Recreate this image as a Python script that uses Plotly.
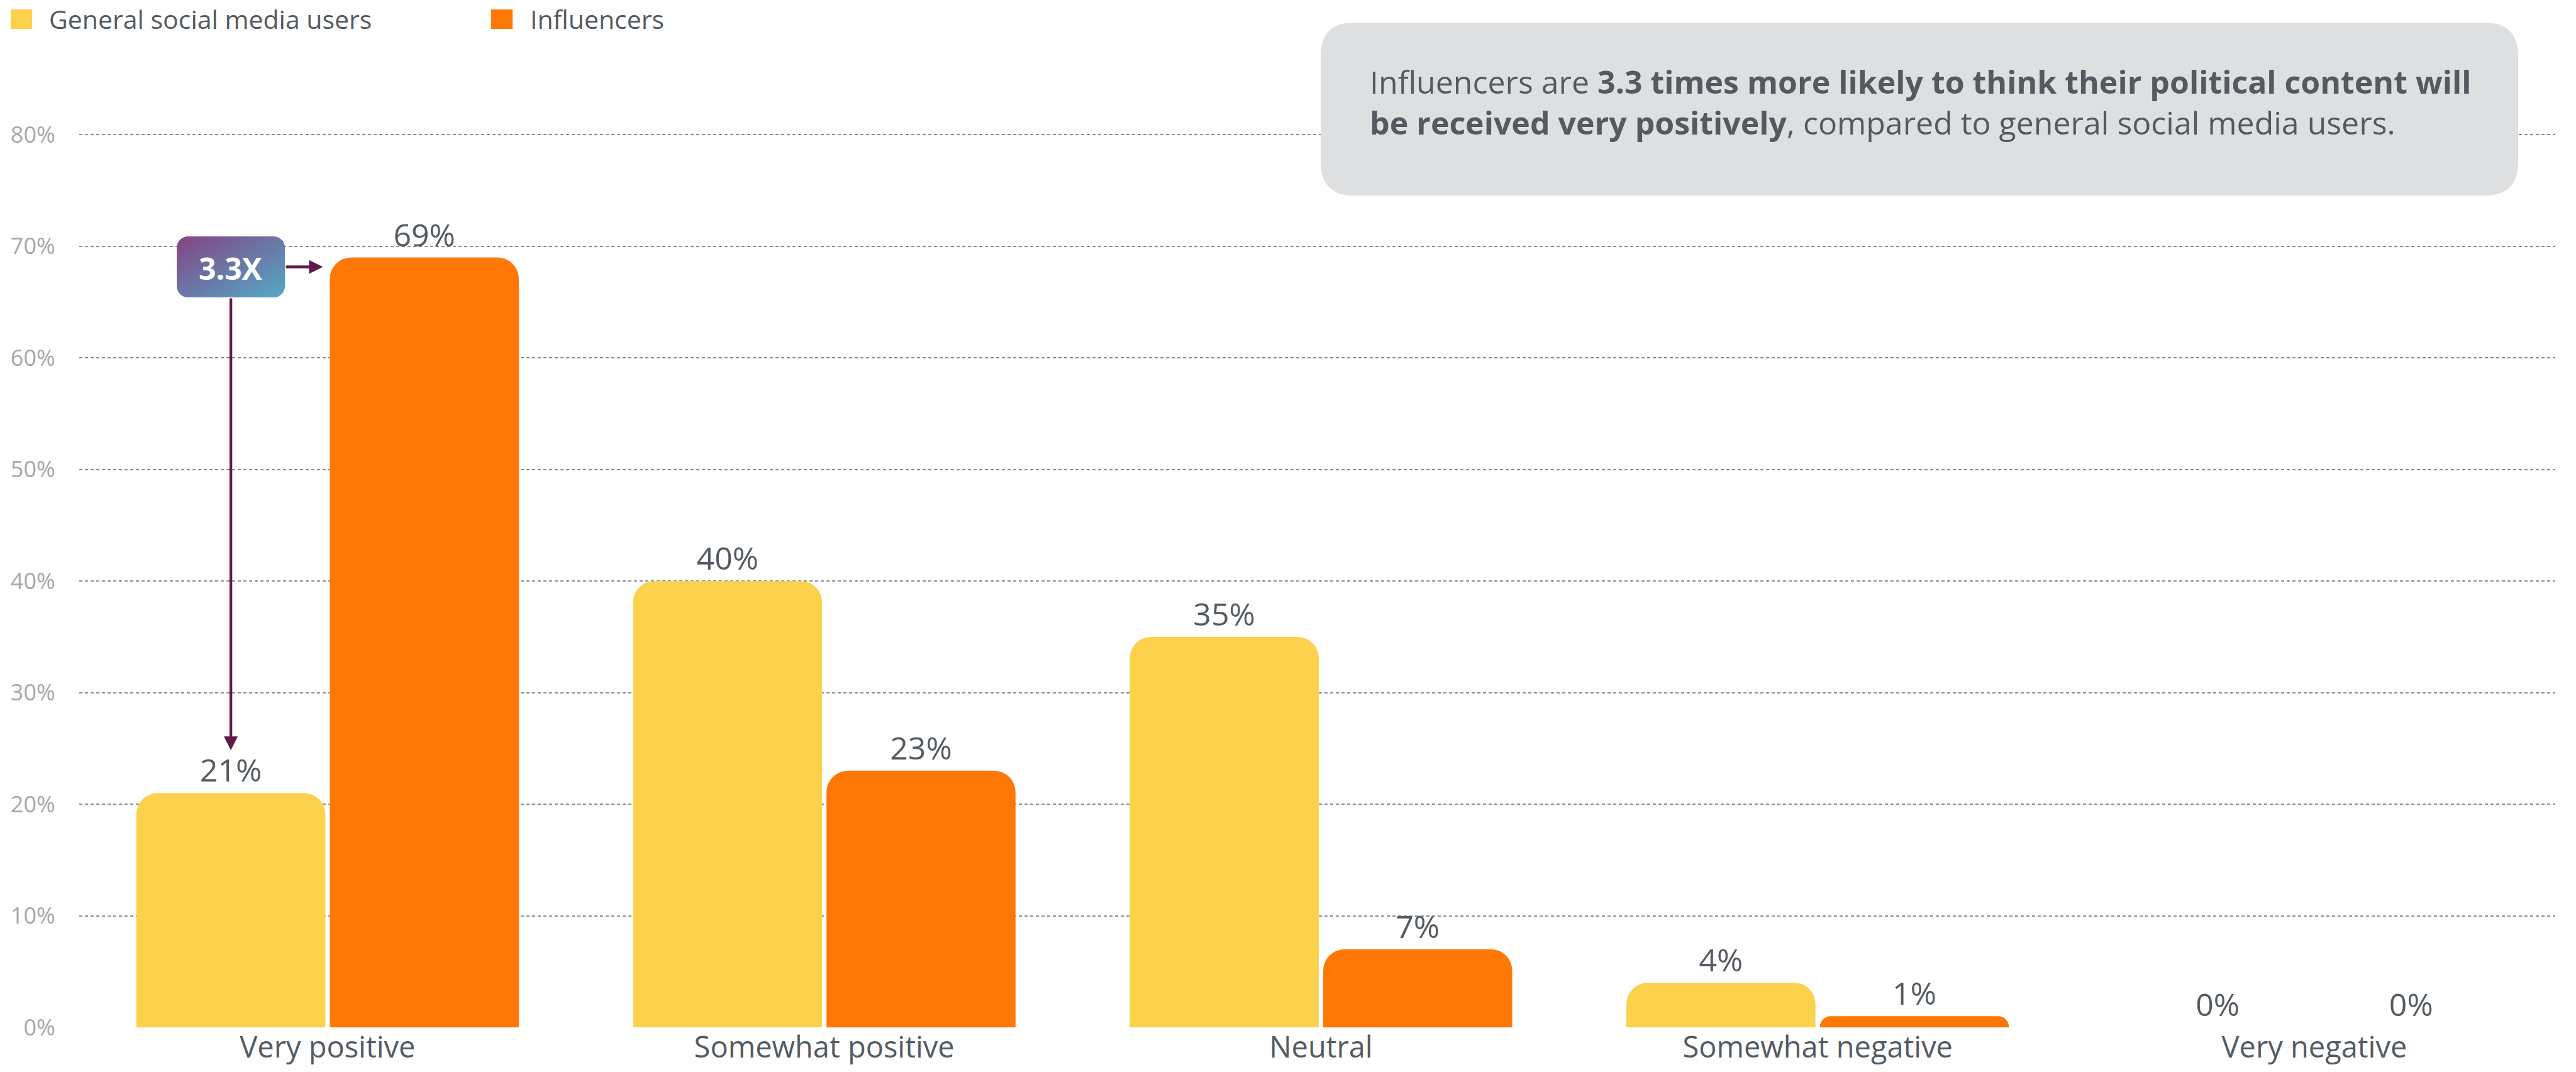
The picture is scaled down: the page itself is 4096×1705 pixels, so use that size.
import base64
import plotly.graph_objects as go

# ---- data -------------------------------------------------------------
categories = ["Very positive", "Somewhat positive", "Neutral", "Somewhat negative", "Very negative"]
general_users = [21, 40, 35, 4, 0]
influencers = [69, 23, 7, 1, 0]
series_names = ["General social media users", "Influencers"]
series_colors = ["#FCD14B", "#FF7805"]
y_tick_values = [0, 10, 20, 30, 40, 50, 60, 70, 80]
y_tick_labels = ["0%", "10%", "20%", "30%", "40%", "50%", "60%", "70%", "80%"]
ratio_label = "3.3X"
callout_text = ("Influencers are <b>3.3 times more likely to think their political content will</b><br>"
                "<b>be received very positively</b>, compared to general social media users.")

# ---- geometry / style -------------------------------------------------
W, H = 4096, 1705
M_L, M_R, M_T, M_B = 126, 33, 209, 71
X_RANGE = [-0.5, 4.485]
Y_RANGE = [0, 80.3]
BARGAP = 0.221
BARGROUPGAP = 0.023
FONT = "Open Sans"
TEXT = "#545A61"
TICK = "#A8A8A8"
GRID = "#8C8C8C"
ARROW = "#5E1A4B"

plot_w = W - M_L - M_R
plot_h = H - M_T - M_B


def x_to_px(xv):
    return M_L + (xv - X_RANGE[0]) / (X_RANGE[1] - X_RANGE[0]) * plot_w


def y_to_px(yv):
    return M_T + (Y_RANGE[1] - yv) / (Y_RANGE[1] - Y_RANGE[0]) * plot_h


def px_to_x(px):
    return X_RANGE[0] + (px - M_L) / plot_w * (X_RANGE[1] - X_RANGE[0])


def py_to_y(py):
    return Y_RANGE[1] - (py - M_T) / plot_h * (Y_RANGE[1] - Y_RANGE[0])


def paper_x(px):
    return (px - M_L) / plot_w


def paper_y(py):
    return (H - M_B - py) / plot_h


def rounded_rect_path(x0, y0, x1, y1, r):
    def p(px, py):
        return f"{paper_x(px):.5f},{paper_y(py):.5f}"
    return (f"M {p(x0 + r, y0)} L {p(x1 - r, y0)} Q {p(x1, y0)} {p(x1, y0 + r)} "
            f"L {p(x1, y1 - r)} Q {p(x1, y1)} {p(x1 - r, y1)} "
            f"L {p(x0 + r, y1)} Q {p(x0, y1)} {p(x0, y1 - r)} "
            f"L {p(x0, y0 + r)} Q {p(x0, y0)} {p(x0 + r, y0)} Z")


fig = go.Figure()

for name, vals, color in zip(series_names, [general_users, influencers], series_colors):
    fig.add_trace(go.Bar(
        x=categories, y=vals, name=name,
        marker=dict(color=color, cornerradius=34, line=dict(width=0)),
        text=[f"{v}%" for v in vals], textposition="outside",
        textfont=dict(family=FONT, size=50, color=TEXT),
        cliponaxis=False, showlegend=False, hoverinfo="skip",
    ))

shapes = []
annotations = []

# legend drawn as large swatches with labels
legend_items = [(17, 76), (781, 841)]
for (sx, tx), name, color in zip(legend_items, series_names, series_colors):
    shapes.append(dict(type="rect", xref="paper", yref="paper",
                       x0=paper_x(sx), x1=paper_x(sx + 34), y0=paper_y(15), y1=paper_y(46),
                       fillcolor=color, line=dict(width=0), layer="above"))
    annotations.append(dict(xref="paper", yref="paper", x=paper_x(tx), y=paper_y(30),
                            xanchor="left", yanchor="middle", text=name, showarrow=False,
                            font=dict(family=FONT, size=41, color=TEXT)))

# callout box
shapes.append(dict(type="path", xref="paper", yref="paper",
                   path=rounded_rect_path(2100, 36, 4004, 311, 53),
                   fillcolor="#DEDFE1", line=dict(width=0), layer="above"))
annotations.append(dict(xref="paper", yref="paper", x=paper_x(2176), y=paper_y(163),
                        xanchor="left", yanchor="middle", text=callout_text, showarrow=False,
                        align="left", font=dict(family=FONT, size=50, color=TEXT)))

# ratio badge between the two "Very positive" bars
group_w = 1 - BARGAP
slot = group_w / 2
offsets = [-group_w / 2 + slot * (i + 0.5) for i in range(2)]
half_bar = slot * (1 - BARGROUPGAP) / 2

badge_w, badge_h = 172, 97
badge_cx = x_to_px(0 + offsets[0])
badge_cy = y_to_px(influencers[0]) + 15
bx0, bx1 = badge_cx - badge_w / 2, badge_cx + badge_w / 2
by0, by1 = badge_cy - badge_h / 2, badge_cy + badge_h / 2

svg = (f"<svg xmlns='http://www.w3.org/2000/svg' width='{badge_w}' height='{badge_h}' "
       f"viewBox='0 0 {badge_w} {badge_h}' preserveAspectRatio='none'>"
       "<defs><linearGradient id='g' x1='0' y1='0' x2='1' y2='1'>"
       "<stop offset='0' stop-color='#854384'/><stop offset='1' stop-color='#52AAC7'/>"
       "</linearGradient></defs>"
       f"<rect x='0' y='0' width='{badge_w}' height='{badge_h}' rx='18' ry='18' fill='url(#g)'/></svg>")
badge_src = "data:image/svg+xml;base64," + base64.b64encode(svg.encode()).decode()

images = [dict(source=badge_src, xref="paper", yref="paper",
               x=paper_x(bx0), y=paper_y(by0), sizex=badge_w / plot_w, sizey=badge_h / plot_h,
               xanchor="left", yanchor="top", sizing="stretch", layer="above")]

annotations.append(dict(xref="paper", yref="paper", x=paper_x(badge_cx), y=paper_y(badge_cy + 2),
                        xanchor="center", yanchor="middle", text=f"<b>{ratio_label}</b>",
                        showarrow=False, font=dict(family=FONT, size=48, color="white")))

# arrow to the influencer bar
head_x = x_to_px(0 + offsets[1] - half_bar) - 11
annotations.append(dict(xref="x", yref="y", x=px_to_x(head_x), y=py_to_y(badge_cy),
                        ax=bx1 - head_x, ay=0, text="", showarrow=True,
                        arrowhead=2, arrowsize=1, arrowwidth=4.4, arrowcolor=ARROW,
                        standoff=0, startstandoff=0))
# arrow down to the general-users bar
head_y = y_to_px(general_users[0]) - 68
annotations.append(dict(xref="x", yref="y", x=px_to_x(badge_cx), y=py_to_y(head_y),
                        ax=0, ay=by1 - head_y, text="", showarrow=True,
                        arrowhead=2, arrowsize=1, arrowwidth=4.4, arrowcolor=ARROW,
                        standoff=0, startstandoff=0))

fig.update_layout(
    width=W, height=H,
    margin=dict(l=M_L, r=M_R, t=M_T, b=M_B, pad=0, autoexpand=False),
    paper_bgcolor="white", plot_bgcolor="white",
    barmode="group", bargap=BARGAP, bargroupgap=BARGROUPGAP,
    showlegend=False,
    font=dict(family=FONT, color=TEXT),
    shapes=shapes, annotations=annotations, images=images,
    xaxis=dict(range=X_RANGE, showgrid=False, zeroline=False, showline=False, automargin=False,
               ticks="", ticklen=0,
               tickfont=dict(family=FONT, size=47, color=TEXT)),
    yaxis=dict(range=Y_RANGE, tickmode="array", tickvals=y_tick_values, ticktext=y_tick_labels,
               showgrid=True, gridcolor=GRID, gridwidth=2.4, griddash="4.5px,4.5px",
               zeroline=True, zerolinecolor="rgba(0,0,0,0)", zerolinewidth=1, automargin=False,
               showline=False, ticks="outside", ticklen=30, tickcolor="rgba(0,0,0,0)",
               tickfont=dict(family=FONT, size=36, color=TICK)),
)

fig.write_html("out.html")
